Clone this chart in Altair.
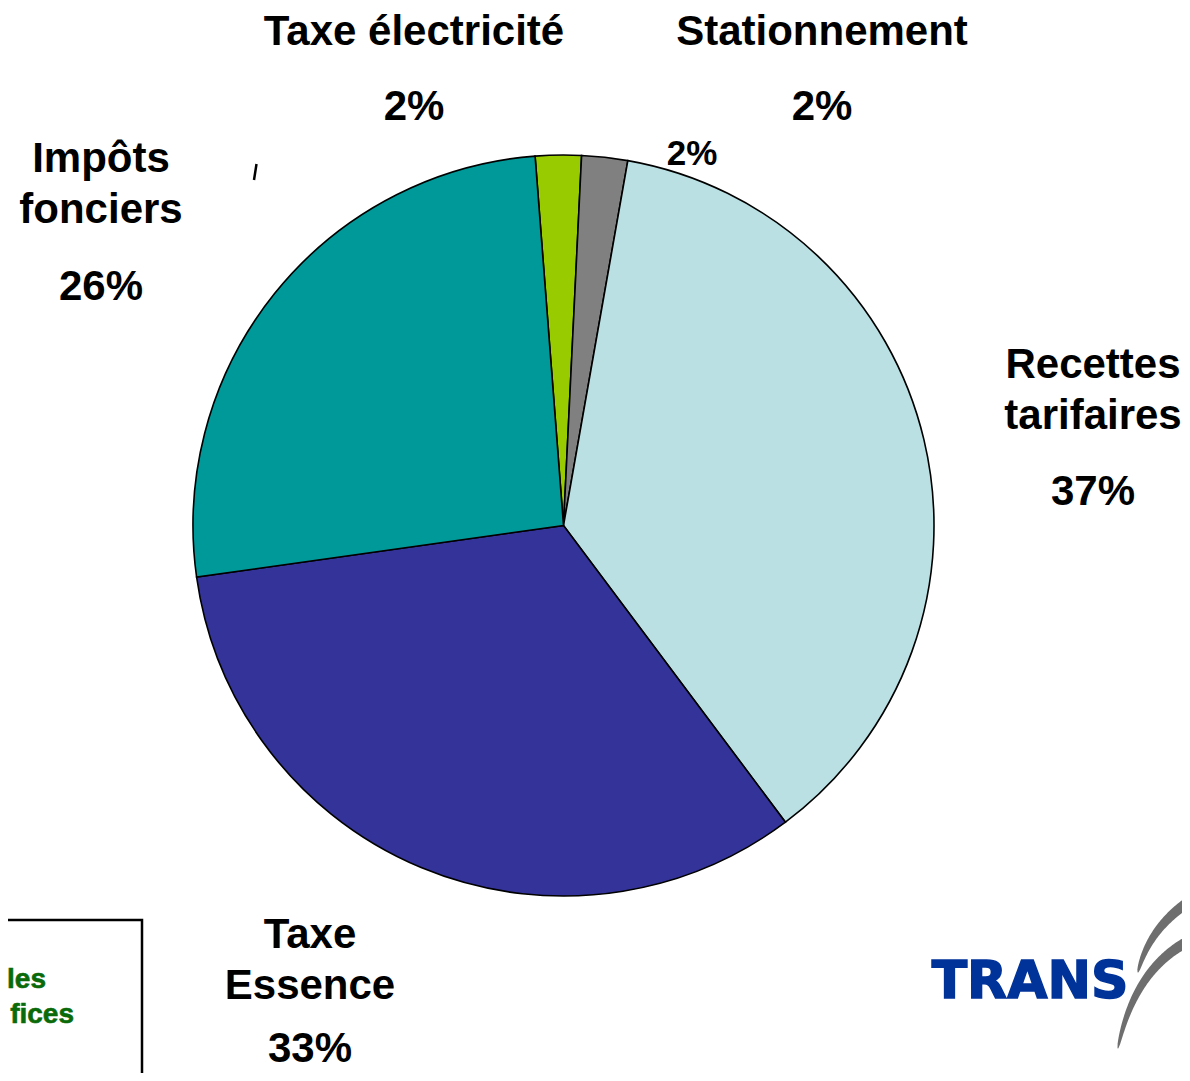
import altair as alt
import numpy as np
import pandas as pd

# ---- data ----
categories = ["Taxe électricité", "Stationnement", "Recettes tarifaires", "Taxe Essence", "Impôts fonciers"]
shares = [2, 2, 37, 33, 26]
slice_colors = ["#99CC00", "#808080", "#BAE0E3", "#333399", "#009999"]

# label text lines (category names split as in the picture, then the percentages)
label_lines = [
    "Taxe électricité", f"{shares[0]}%",
    "Stationnement", f"{shares[1]}%",
    "Impôts", "fonciers", f"{shares[4]}%",
    "Recettes", "tarifaires", f"{shares[2]}%",
    "Taxe", "Essence", f"{shares[3]}%",
    f"{shares[1]}%",
]
box_lines = ["les", "fices"]   # only the visible ends of the box's text
logo_text = "TRANS"

# ---- layout (page pixel positions, chart origin at page 8,8) ----
OFF = 8
W, H = 1174, 1065
label_px = [414, 414, 822, 822, 101, 101, 101, 1093, 1093, 1093, 310, 310, 310, 692]
label_py = [45, 120, 45, 120, 172, 223, 300, 378, 429, 505, 948, 999, 1062, 165]
label_fs = [42] * 13 + [35]
box_px = [46, 74]
box_py = [988, 1023]

cx, cy, R = 563.5 - OFF, 525.5 - OFF, 370.5
start = np.deg2rad(-4.4)

xs = alt.Scale(domain=[0, W], nice=False, zero=False)
ys = alt.Scale(domain=[0, H], nice=False, zero=False, reverse=True)

pie_df = pd.DataFrame({"cat": categories, "value": shares, "idx": range(len(shares))})
pie = alt.Chart(pie_df).mark_arc(radius=R, stroke="black", strokeWidth=1.6).encode(
    theta=alt.Theta("value:Q", stack=True, scale=alt.Scale(range=[start, start + 2 * np.pi])),
    color=alt.Color("cat:N", scale=alt.Scale(domain=categories, range=slice_colors), legend=None),
    order=alt.Order("idx:Q"),
    x=alt.value(cx),
    y=alt.value(cy),
)

lab_df = pd.DataFrame({"t": label_lines, "x": [v - OFF for v in label_px],
                       "y": [v - OFF for v in label_py], "fs": label_fs})
labels = alt.Chart(lab_df).mark_text(
    font="Liberation Sans", fontWeight="bold", color="black", align="center", baseline="alphabetic"
).encode(
    x=alt.X("x:Q", scale=xs, axis=None),
    y=alt.Y("y:Q", scale=ys, axis=None),
    text="t:N",
    size=alt.Size("fs:Q", scale=None, legend=None),
)

# small stray tick near the top-left
tick_df = pd.DataFrame({"x": [256.5 - OFF], "y": [164 - OFF], "x2": [254 - OFF], "y2": [180 - OFF]})
tick = alt.Chart(tick_df).mark_rule(color="black", strokeWidth=2.5).encode(
    x=alt.X("x:Q", scale=xs, axis=None), y=alt.Y("y:Q", scale=ys, axis=None), x2="x2:Q", y2="y2:Q"
)

# bottom-left box (partially off page)
box_df = pd.DataFrame({"x": [-40 - OFF], "x2": [142 - OFF], "y": [920 - OFF], "y2": [1120 - OFF]})
box = alt.Chart(box_df).mark_rect(fill="white", stroke="black", strokeWidth=2.5).encode(
    x=alt.X("x:Q", scale=xs, axis=None), x2="x2:Q", y=alt.Y("y:Q", scale=ys, axis=None), y2="y2:Q"
)
box_txt_df = pd.DataFrame({"t": box_lines, "x": [v - OFF for v in box_px], "y": [v - OFF for v in box_py]})
box_txt = alt.Chart(box_txt_df).mark_text(
    font="Liberation Sans", fontWeight="bold", fontSize=28, color="#0A6A0A", align="right", baseline="alphabetic",
    stroke="#0A6A0A", strokeWidth=0.6
).encode(x=alt.X("x:Q", scale=xs, axis=None), y=alt.Y("y:Q", scale=ys, axis=None), text="t:N")

# logo
logo_df = pd.DataFrame({"t": [logo_text], "x": [1030 - OFF], "y": [998 - OFF]})
logo = alt.Chart(logo_df).mark_text(
    font="DejaVu Sans", fontWeight="bold", fontSize=52, color="#003399", align="center", baseline="alphabetic",
    stroke="#003399", strokeWidth=1.5
).encode(x=alt.X("x:Q", scale=xs, axis=None), y=alt.Y("y:Q", scale=ys, axis=None), text="t:N")

def swoosh(p0, p1, p2, w0, w1, sid, n=40):
    t = np.linspace(0, 1, n)
    p0, p1, p2 = map(np.array, (p0, p1, p2))
    pts = ((1 - t)[:, None] ** 2) * p0 + (2 * (1 - t) * t)[:, None] * p1 + (t[:, None] ** 2) * p2
    return pd.DataFrame({"x": pts[:, 0] - OFF, "y": pts[:, 1] - OFF, "w": w0 + (w1 - w0) * np.sqrt(t),
                         "i": np.arange(n), "s": sid})

sw_df = pd.concat([
    swoosh((1138, 972), (1150, 925), (1195, 898), 1, 11, "a"),
    swoosh((1118, 1048), (1135, 965), (1195, 938), 1, 11, "b"),
])
sw = alt.Chart(sw_df).mark_trail(color="#6E6E6E").encode(
    x=alt.X("x:Q", scale=xs, axis=None), y=alt.Y("y:Q", scale=ys, axis=None),
    size=alt.Size("w:Q", scale=None, legend=None), detail="s:N", order="i:Q"
)

chart = alt.layer(pie, box, box_txt, tick, labels, sw, logo).properties(
    width=W, height=H, padding=0, autosize=alt.AutoSizeParams(type="none")
).configure_view(stroke=None)

chart.save("out.html", embed_options={"renderer": "svg", "actions": False})
